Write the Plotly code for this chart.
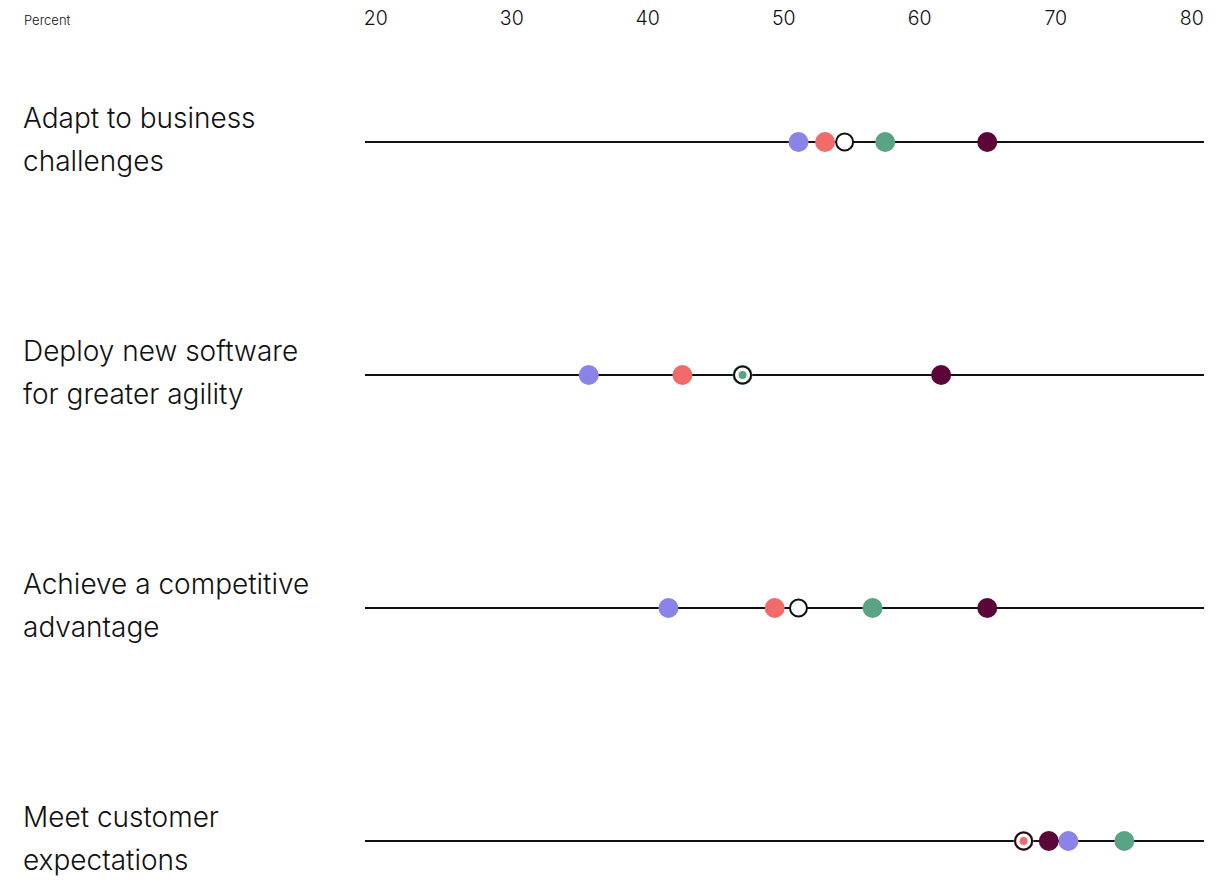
import plotly.graph_objects as go
import numpy as np

W, H = 1229, 888

categories = [
    "Adapt to business<br>challenges",
    "Deploy new software<br>for greater agility",
    "Achieve a competitive<br>advantage",
    "Meet customer<br>expectations",
]
series_names = ["Group A", "Group B", "Group C", "Group D"]
series_colors = ["#8a84e8", "#f26b6b", "#5aa383", "#5c0538"]
series_values = {
    "Group A": [51.0, 36.0, 41.7, 70.3],
    "Group B": [52.9, 42.7, 49.3, 67.1],
    "Group C": [57.2, 47.0, 56.3, 74.3],
    "Group D": [64.5, 61.2, 64.5, 68.9],
}
overall = [54.3, 47.0, 51.0, 67.1]
tick_vals = [20, 30, 40, 50, 60, 70, 80]
tick_text = ["20", "30", "40", "50", "60", "70", "80"]

FONT = "Inter"
rows = list(range(len(categories)))

fig = go.Figure()

for name, color in zip(series_names, series_colors):
    fig.add_trace(go.Scatter(
        x=series_values[name], y=rows, mode="markers", name=name,
        marker=dict(size=20, color=color, line=dict(width=0)),
        cliponaxis=False, showlegend=False, hoverinfo="x+name",
    ))

fig.add_trace(go.Scatter(
    x=overall, y=rows, mode="markers", name="Overall",
    marker=dict(size=17, color="white", line=dict(width=2, color="#111111")),
    cliponaxis=False, showlegend=False,
))

# series hidden under the overall marker shown as small inner dots
for name, color in zip(series_names, series_colors):
    v = np.array(series_values[name])
    mask = np.abs(v - np.array(overall)) < 0.05
    if mask.any():
        fig.add_trace(go.Scatter(
            x=v[mask], y=np.array(rows)[mask], mode="markers", name=name,
            marker=dict(size=8, color=color, line=dict(width=0)),
            cliponaxis=False, showlegend=False,
        ))

# invisible trace to activate the top label axis
fig.add_trace(go.Scatter(x=tick_vals, y=[0] * len(tick_vals), xaxis="x2",
                         mode="markers", marker=dict(opacity=0), showlegend=False,
                         hoverinfo="skip"))

shapes = []
for r in rows:
    shapes.append(dict(type="line", xref="x domain", x0=0, x1=1, yref="y", y0=r, y1=r,
                       line=dict(color="#111111", width=2), layer="below"))

annotations = []
for r, cat in zip(rows, categories):
    lines = cat.split("<br>")
    n = len(lines)
    for i, ln in enumerate(lines):
        annotations.append(dict(
            text=ln, xref="paper", x=21 / W, xanchor="left",
            yref="y", y=r, yanchor="middle", yshift=(n - 1) / 2 * 43 - i * 43 + 3,
            showarrow=False,
            font=dict(family=FONT, size=28, color="#111111", weight=300),
        ))
annotations.append(dict(text="Percent", xref="paper", x=22 / W, xanchor="left",
                        yref="paper", y=1, yanchor="middle", yshift=10,
                        showarrow=False,
                        font=dict(family=FONT, size=13, color="#111111", weight=300)))

top_px = 30
row_gap = 233
first_row_px = 142
last_row_px = 841
y_top = -(first_row_px - top_px) / row_gap
y_bot = (len(rows) - 1) + (H - last_row_px) / row_gap

fig.update_layout(
    width=W, height=H,
    margin=dict(l=0, r=0, t=top_px, b=0),
    paper_bgcolor="white", plot_bgcolor="white",
    xaxis=dict(domain=[365 / W, 1204 / W], range=[20, 80], showgrid=False,
               zeroline=False, showticklabels=False, showline=False, ticks=""),
    xaxis2=dict(overlaying="x", side="top", range=[19.206, 80.905],
                tickvals=tick_vals, ticktext=tick_text, showgrid=False,
                zeroline=False, showline=False, ticks="",
                tickfont=dict(family=FONT, size=19.5, color="#111111", weight=300)),
    yaxis=dict(range=[y_bot, y_top], showgrid=False, zeroline=False,
               showticklabels=False, showline=False, ticks=""),
    shapes=shapes, annotations=annotations,
    showlegend=False,
)

fig.write_html("out.html")
